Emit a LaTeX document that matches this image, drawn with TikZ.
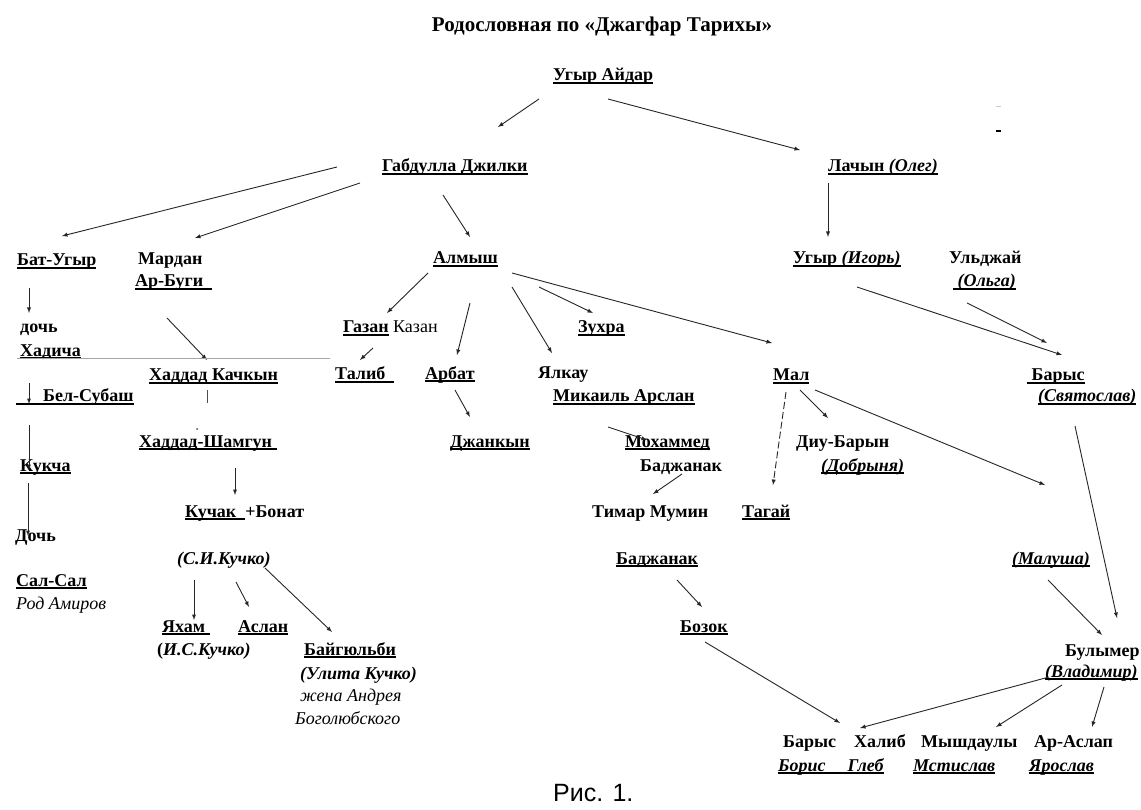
\documentclass[tikz,border=0pt]{standalone}
\usepackage{fontspec}
\setmainfont{Liberation Serif}
\newfontfamily\capfont{Liberation Sans}
\usetikzlibrary{
    arrows
}
\newcommand\undl[1]{\setbox0\hbox{#1}\rlap{\rule[-2.6pt]{\wd0}{1.3pt}}\box0\relax}
\tikzset{
  lnk/.style={
    draw=black!85,
    line width=0.9pt,
    -latex
  },
  every node/.style={
    anchor=west,
    inner sep=0pt,
    text height=12pt,
    text depth=4pt,
    font=\fontsize{18}{18}\selectfont\bfseries
  },
  note/.style={font=\fontsize{18}{18}\selectfont\itshape},
  capt/.style={font=\capfont\fontsize{25}{25}\selectfont}
}

\begin{document}
\begin{tikzpicture}[x=1pt,y=-1pt]
\fill[white] (0,0) rectangle (1141,810);
\useasboundingbox (0,0) rectangle (1141,810);
\node[anchor=center, font=\fontsize{21}{21}\selectfont\bfseries] (title) at (602,28) {Родословная по «Джагфар Тарихы»};
\node (ugyr) at (553,77) {\undl{Угыр Айдар}};
\node (gabd) at (382,168) {\undl{Габдулла Джилки}};
\node (lach) at (828,168) {\undl{Лачын \textit{(Олег)}}};
\node (bat) at (17,262) {\undl{Бат-Угыр}};
\node (mard) at (138,261) {Мардан};
\node (arbu) at (135,283) {\undl{Ар-Буги\ \ }};
\node (doch1) at (20,329) {дочь};
\node (hadi) at (20,352) {\undl{Хадича}};
\node (hkach) at (149,377) {\undl{Хаддад Качкын}};
\node (bels) at (16,398) {\undl{\hspace{27pt}Бел-Субаш}};
\node (kukc) at (20,467) {\undl{Кукча}};
\node (doch2) at (15,537) {Дочь};
\node (salsal) at (16,582) {\undl{Сал-Сал}};
\node[note] (amir) at (16,605) {Род Амиров};
\node (hsham) at (139,443) {\undl{Хаддад-Шамгун\ }};
\node (kuch) at (185,513) {\undl{Кучак\ \ }+Бонат};
\node (siku) at (177,560) {\textit{(С.И.Кучко)}};
\node (yaham) at (162,628) {\undl{Яхам\ }};
\node (isku) at (157,651) {(\textit{И.С.Кучко)}};
\node (asla) at (238,628) {\undl{Аслан}};
\node (bayg) at (304,651) {\undl{Байгюльби}};
\node (ulit) at (300,675) {\textit{(Улита Кучко)}};
\node[note] (zhena) at (300,697) {жена Андрея};
\node[note] (bogo) at (295,720) {Боголюбского};
\node (alm) at (433,260) {\undl{Алмыш}};
\node (gaz) at (343,329) {\undl{Газан} {\mdseries Казан}};
\node (tal) at (335,376) {\undl{Талиб\ \ }};
\node (arb) at (425,375) {\undl{Арбат}};
\node (dzh) at (450,443) {\undl{Джанкын}};
\node (zuh) at (578,329) {\undl{Зухра}};
\node (yalk) at (538,374) {Ялкау};
\node (mika) at (553,398) {\undl{Микаиль Арслан}};
\node (moh) at (625,443) {\undl{Мохаммед}};
\node (badzhA) at (640,467) {Баджанак};
\node (timar) at (592,513) {Тимар Мумин};
\node (tag) at (742,513) {\undl{Тагай}};
\node (mal) at (773,377) {\undl{Мал}};
\node (diu) at (796,443) {Диу-Барын};
\node (dobr) at (821,467) {\undl{\textit{(Добрыня)}}};
\node (badzhB) at (616,560) {\undl{Баджанак}};
\node (boz) at (680,628) {\undl{Бозок}};
\node (malu) at (1012,560) {\undl{\textit{(Малуша)}}};
\node (igor) at (793,260) {\undl{Угыр \textit{(Игорь)}}};
\node (uldzh) at (949,260) {Ульджай};
\node (olga) at (953,283) {\undl{\ \textit{(Ольга)}}};
\node (bar) at (1027,377) {\undl{\ Барыс}};
\node (svya) at (1038,398) {\undl{\textit{(Святослав)}}};
\node (bul) at (1065,652) {Булымер};
\node (vlad) at (1045,673) {\undl{\textit{(Владимир)}}};
\node (barysB) at (783,743) {Барыс};
\node (hal) at (854,743) {Халиб};
\node (mysh) at (921,743) {Мышдаулы};
\node (aras) at (1034,743) {Ар-Аслап};
\node (bor) at (778,767) {\undl{\textit{Борис}\hspace{22pt}\textit{Глеб}}};
\node (mst) at (913,767) {\undl{\textit{Мстислав}}};
\node (yaro) at (1029,767) {\undl{\textit{Ярослав}}};
\node[capt] (cap) at (553,797) {Рис. 1.};
\foreach \a/\ax/\ay/\b/\bx/\by in {
  ugyr/-14/22/gabd/116/-41, ugyr/55/22/lach/-28/-18,
  gabd/-45/-1/bat/45/-26, gabd/-22/15/mard/57/-23, gabd/61/27/alm/37/-23,
  lach/0/15/igor/35/-23,
  bat/12/26/doch1/9/-16, hadi/9/31/bels/13/6, bels/13/27/kukc/9/3,
  kukc/8/16/doch2/13/-1,
  arbu/32/35/hkach/58/-17, hsham/96/25/kuch/50/-18,
  siku/17/20/yaham/32/-8, siku/59/22/asla/11/-21, siku/88/8/bayg/28/-19,
  alm/-5/13/gaz/44/-16, alm/37/43/arb/32/-20, alm/79/27/yalk/14/-21,
  alm/106/27/zuh/15/-16, alm/79/13/mal/-1/-34,
  gaz/30/19/tal/25/-16, arb/30/15/dzh/20/-26,
  mika/55/29/moh/22/-3, badzhA/42/7/timar/61/-19,
  mal/27/13/diu/32/-25, mal/42/13/malu/33/-75,
  badzhB/61/20/boz/22/-21, boz/25/14/barysB/57/-20,
  igor/64/27/bar/35/-22, olga/14/20/bar/20/-34,
  svya/37/28/bul/52/-34, malu/36/20/bul/37/-17,
  vlad/4/4/hal/6/-15, vlad/17/12/mysh/75/-16, vlad/59/14/aras/58/-16}
  \draw[lnk] ([shift={(\ax,\ay)}]\a.west) -- ([shift={(\bx,\by)}]\b.west);
\draw[lnk, dash pattern=on 7pt off 3pt] ([shift={(13,15)}]mal.west) -- ([shift={(31,-28)}]tag.west);
\draw[black!70, line width=0.8pt] ([shift={(58,13)}]hkach.west) -- ([shift={(68,-40)}]hsham.west);
\fill[black!70] ([shift={(58,-14)}]hsham.west) circle (1);
\draw[gray!70, line width=1pt] ([shift={(-3,7)}]hadi.west) -- ([shift={(-5,-17)}]tal.west);
\draw[gray!40, line width=1pt] (996,107) -- (1001,107);
\draw[line width=1.2pt] (996,131) -- (1001,131);
\end{tikzpicture}
\end{document}
